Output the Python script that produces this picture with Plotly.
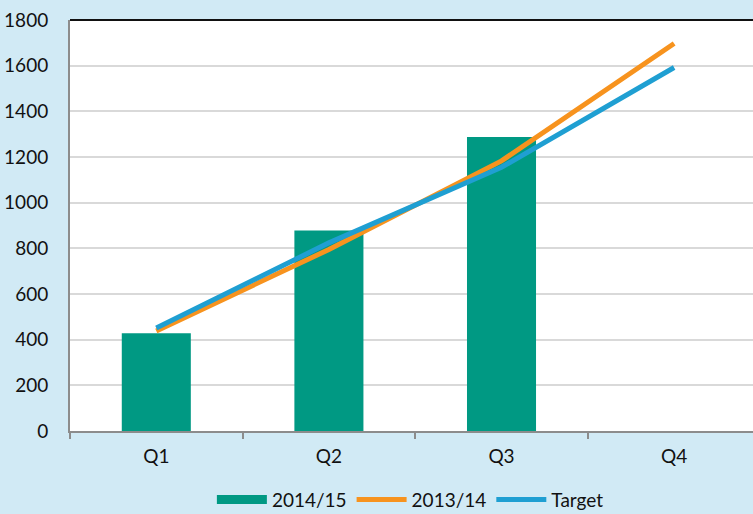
import plotly.graph_objects as go

quarters = ["Q1", "Q2", "Q3", "Q4"]
fy_2014_15 = [428, 878, 1288, None]
fy_2013_14 = [438, 795, 1183, 1697]
target = [451, 824, 1155, 1592]
y_ticks = [0, 200, 400, 600, 800, 1000, 1200, 1400, 1600, 1800]

font_family = "Lato, 'Open Sans', sans-serif"
teal = "#009983"

fig = go.Figure()
fig.add_trace(go.Bar(x=quarters, y=fy_2014_15, name="2014/15", showlegend=False,
                     legendgroup="a", marker=dict(color=teal, line=dict(width=0)), width=0.4))
# legend entry for the bars, drawn as a wide swatch like the original
fig.add_trace(go.Scatter(x=[None], y=[None], name="2014/15", mode="lines", legendgroup="a",
                         line=dict(color=teal, width=9)))
fig.add_trace(go.Scatter(x=quarters, y=fy_2013_14, name="2013/14", mode="lines",
                         line=dict(color="#F7931E", width=5)))
fig.add_trace(go.Scatter(x=quarters, y=target, name="Target", mode="lines",
                         line=dict(color="#1F9FD2", width=5)))

fig.update_layout(
    width=753, height=514,
    margin=dict(l=70, r=0, t=20, b=83, autoexpand=False),
    paper_bgcolor="#D1EAF5",
    plot_bgcolor="#FFFFFF",
    font=dict(family=font_family, size=19, color="#111111"),
    showlegend=True,
    legend=dict(orientation="h", x=0.545, xanchor="center", xref="container",
                y=0.028, yanchor="middle", yref="container",
                font=dict(size=19), bgcolor="rgba(0,0,0,0)", traceorder="normal",
                itemwidth=50),
)
fig.update_xaxes(
    type="category", range=[-0.5, 3.457], automargin=False,
    showline=True, linecolor="#8C8C8C", linewidth=2,
    ticks="outside", tickson="boundaries", ticklen=6, tickcolor="#8C8C8C", tickwidth=2,
    showgrid=False, tickfont=dict(size=19), ticklabelstandoff=7,
)
fig.update_yaxes(
    range=[0, 1800], tickvals=y_ticks, automargin=False,
    showline=True, linecolor="#8C8C8C", linewidth=2,
    showgrid=True, gridcolor="#D9D9D9", gridwidth=2,
    zeroline=False, ticks="", tickfont=dict(size=19), ticklabelstandoff=16,
)
fig.add_shape(type="line", xref="paper", yref="paper", x0=0, x1=1, y0=1, y1=1,
              line=dict(color="#111111", width=2))

fig.write_html("out.html", config={"displayModeBar": False},
               post_script="document.body.style.margin='0';document.body.style.overflow='hidden';")
